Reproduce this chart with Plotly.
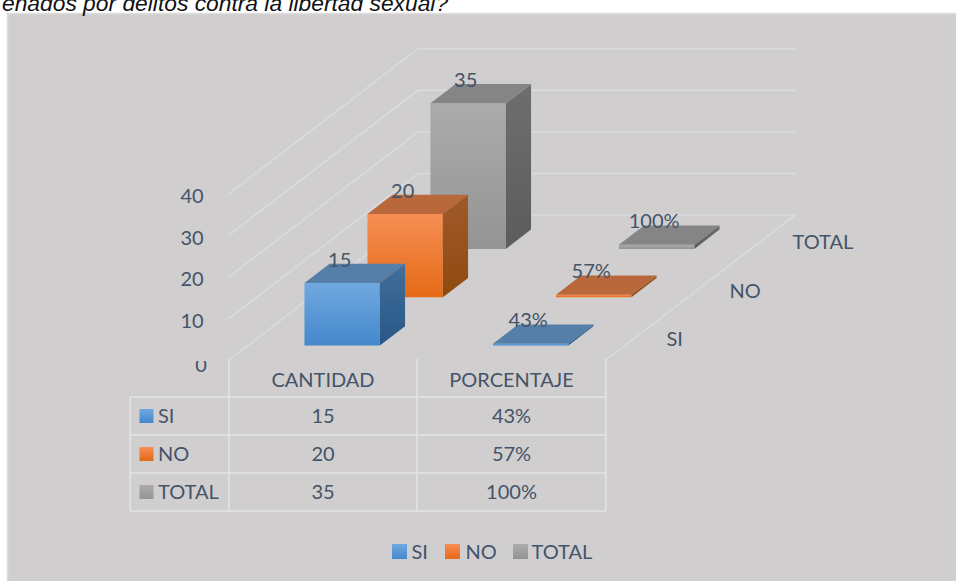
import plotly.graph_objects as go

# ---- data ----
categories = ["CANTIDAD", "PORCENTAJE"]
series_names = ["SI", "NO", "TOTAL"]
cantidad = [15, 20, 35]
porcentaje = [0.43, 0.57, 1.00]
axis_ticks = [0, 10, 20, 30, 40]
title_text = "enados por delitos contra la libertad sexual?"

# ---- style ----
BG = "#D0CECE"
GRID = "#D9DCE0"
TXT = "#44546A"
FONT = "Lato"
FS = 20
STYLE = {
    "SI": dict(front=("#70A8E0", "#4488CC"), top="#557EA8", side=("#426E9B", "#285887")),
    "NO": dict(front=("#F68E55", "#E56A15"), top="#B8683B", side=("#A05A2B", "#8F4A10")),
    "TOTAL": dict(front=("#ABABAB", "#949494"), top="#858585", side=("#6E6E6E", "#5C5C5C")),
}

# ---- oblique projection of (category, depth, value) to the page ----
ORIGIN = (229.0, 360.0)
CAT_W = 188.5
DEPTH = (63.0, -48.3)
VAL = -4.16
TEXT_DY = 2.0


def proj(c, d, v):
    return (ORIGIN[0] + c * CAT_W + d * DEPTH[0], ORIGIN[1] + d * DEPTH[1] + v * VAL)


fig = go.Figure()


def poly(pts, color):
    xs = [p[0] for p in pts] + [pts[0][0]]
    ys = [p[1] for p in pts] + [pts[0][1]]
    kw = {}
    if isinstance(color, tuple):
        kw["fillgradient"] = dict(
            type="vertical",
            colorscale=[[0, color[0]], [1, color[1]]],
            start=min(ys),
            stop=max(ys),
        )
    else:
        kw["fillcolor"] = color
    fig.add_trace(go.Scatter(x=xs, y=ys, mode="lines", fill="toself", line=dict(width=0),
                             hoverinfo="skip", showlegend=False, **kw))


def line(pts, color=GRID, width=1.5):
    fig.add_trace(go.Scatter(x=[p[0] for p in pts], y=[p[1] for p in pts], mode="lines",
                             line=dict(color=color, width=width), hoverinfo="skip", showlegend=False))


def text(x, y, s, size=FS, anchor="middle center"):
    fig.add_trace(go.Scatter(x=[x], y=[y + TEXT_DY], mode="text", text=[s], textposition=anchor,
                             textfont=dict(family=FONT, size=size, color=TXT),
                             hoverinfo="skip", showlegend=False))


# gridlines on side and back walls
for t in axis_ticks:
    line([proj(0, 0, t), proj(0, 3, t), proj(2, 3, t)])
line([proj(2, 3, 0), proj(2, 0, 0)])


def bar(cat, ser, val, st):
    c0, c1, d0, d1 = cat + 0.3, cat + 0.7, ser + 0.3, ser + 0.7
    poly([proj(c0, d0, val), proj(c1, d0, val), proj(c1, d0, 0), proj(c0, d0, 0)], st["front"])
    poly([proj(c1, d0, val), proj(c1, d1, val), proj(c1, d1, 0), proj(c1, d0, 0)], st["side"])
    poly([proj(c0, d0, val), proj(c0, d1, val), proj(c1, d1, val), proj(c1, d0, val)], st["top"])


cols = [cantidad, porcentaje]
for s in reversed(range(3)):
    for c in range(2):
        bar(c, s, cols[c][s], STYLE[series_names[s]])


def fmt(c, s):
    return f"{cols[c][s]}" if c == 0 else f"{round(cols[c][s] * 100)}%"


# data labels: above the front-centre of each bar's top
for s in range(3):
    for c in range(2):
        x, y = proj(c + 0.5, s + 0.3, cols[c][s])
        text(x - 2.5, y - 23.5, fmt(c, s))

# value axis labels
for t in axis_ticks:
    x, y = proj(0, 0, t)
    text(x - (37 if t else 28), y + (2.5 if t else 5), str(t))

# depth axis labels
for s, name in enumerate(series_names):
    x, y = proj(2, s + 0.5, 0)
    text(x + 29, y + 3, name, anchor="middle right")

# table
TY = [397, 435, 473, 511]
TX = [130, 229, 417, 606]
for y in TY:
    line([(TX[0], y), (TX[3], y)], "#E2E5EA", 1.5)
for i, x in enumerate(TX):
    line([(x, 397 if i == 0 else 359), (x, 511)], "#E2E5EA", 1.5)
for c, cat in enumerate(categories):
    text((TX[c + 1] + TX[c + 2]) / 2, 380, cat)
for s, name in enumerate(series_names):
    yc = (TY[s] + TY[s + 1]) / 2
    st = STYLE[name]["front"]
    poly([(139.5, yc - 7), (153.5, yc - 7), (153.5, yc + 7), (139.5, yc + 7)], st)
    text(158, yc - 0.5, name, anchor="middle right")
    for c in range(2):
        text((TX[c + 1] + TX[c + 2]) / 2, yc, fmt(c, s))

# legend
for name, sx, tx in zip(series_names, [392, 445, 513], [411.5, 465.5, 531.5]):
    poly([(sx, 544), (sx + 15, 544), (sx + 15, 559), (sx, 559)], STYLE[name]["front"])
    text(tx, 552, name, anchor="middle right")

fig.update_layout(
    width=956, height=581,
    margin=dict(l=0, r=0, t=0, b=0),
    paper_bgcolor="white", plot_bgcolor="white",
    xaxis=dict(range=[0, 956], visible=False, fixedrange=True),
    yaxis=dict(range=[581, 0], visible=False, fixedrange=True),
    shapes=[
        dict(type="rect", xref="x", yref="y", x0=7.5, x1=970, y0=13.5, y1=600,
             fillcolor=BG, line=dict(color="#DDDDDD", width=1.5), layer="below"),
        # the chart's "0" tick label is cut off at its top in the reference
        dict(type="rect", xref="x", yref="y", x0=188, x1=216, y0=345, y1=361,
             fillcolor=BG, line=dict(width=0), layer="above"),
    ],
    annotations=[
        dict(text="<i>" + title_text + "</i>", x=0, y=2.5, xref="x", yref="y", xanchor="left",
             yanchor="middle", showarrow=False,
             font=dict(family="Liberation Sans", size=22.8, color="#111111")),
    ],
)

fig.write_html("out.html", post_script="document.body.style.margin='0';document.body.style.overflow='hidden';",
               config=dict(displayModeBar=False))
